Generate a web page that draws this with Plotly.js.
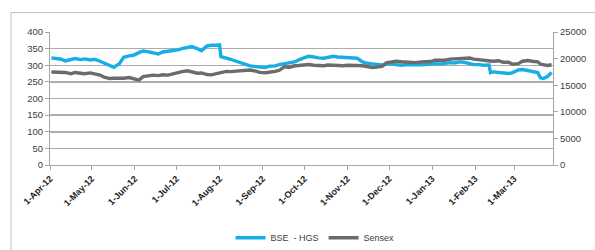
<!DOCTYPE html>
<html>
<head>
<meta charset="utf-8">
<script src="https://cdn.plot.ly/plotly-3.0.1.min.js"></script>
<style>
html,body{margin:0;padding:0;background:#fff;}
#chart{width:595px;height:250px;}
</style>
</head>
<body>
<div id="chart"></div>
<script>
const dates = [
"2012-04-02","2012-04-05","2012-04-09","2012-04-12","2012-04-16","2012-04-19","2012-04-23","2012-04-26","2012-04-30",
"2012-05-03","2012-05-07","2012-05-10","2012-05-14","2012-05-17","2012-05-21","2012-05-24","2012-05-28","2012-05-31",
"2012-06-04","2012-06-07","2012-06-11","2012-06-14","2012-06-18","2012-06-21","2012-06-25","2012-06-28",
"2012-07-02","2012-07-05","2012-07-09","2012-07-12","2012-07-16","2012-07-19","2012-07-23","2012-07-26","2012-07-30",
"2012-08-01","2012-08-02","2012-08-06","2012-08-09","2012-08-13","2012-08-16","2012-08-20","2012-08-23","2012-08-27","2012-08-30",
"2012-09-03","2012-09-06","2012-09-10","2012-09-13","2012-09-17","2012-09-20","2012-09-24","2012-09-27",
"2012-10-01","2012-10-04","2012-10-08","2012-10-11","2012-10-15","2012-10-18","2012-10-22","2012-10-25","2012-10-29",
"2012-11-01","2012-11-05","2012-11-08","2012-11-12","2012-11-15","2012-11-19","2012-11-22","2012-11-26","2012-11-29",
"2012-12-03","2012-12-06","2012-12-10","2012-12-13","2012-12-17","2012-12-20","2012-12-24","2012-12-27","2012-12-31",
"2013-01-03","2013-01-07","2013-01-10","2013-01-14","2013-01-17","2013-01-21","2013-01-24","2013-01-28","2013-01-31",
"2013-02-04","2013-02-07","2013-02-11","2013-02-12","2013-02-14","2013-02-18","2013-02-21","2013-02-25","2013-02-28",
"2013-03-04","2013-03-07","2013-03-11","2013-03-14","2013-03-18","2013-03-20","2013-03-22","2013-03-25","2013-03-28"
];
const bseHGS = [
322,321,318,313,318,320,317,319,316,
318,312,306,300,294,305,324,328,330,
338,343,340,338,334,340,342,344,
346,350,352,356,350,344,358,360,360,
361,326,322,318,312,308,302,298,296,295,
293,297,298,302,305,307,310,316,
322,327,325,322,321,323,327,325,324,
322,322,321,310,306,304,303,301,303,
304,302,300,302,301,300,301,302,304,
305,304,306,308,307,310,309,305,302,
302,300,301,278,280,278,276,275,278,
286,287,284,283,278,262,260,266,278
];
const sensex = [
17480,17450,17300,17400,17150,17390,17250,17150,17320,
17150,16900,16500,16250,16300,16250,16300,16450,16200,
15950,16600,16700,16900,16800,16950,16900,17100,
17400,17550,17700,17450,17250,17300,17000,16950,17250,
17300,17350,17600,17550,17650,17700,17800,17850,17650,17400,
17350,17400,17600,17800,18500,18350,18650,18700,
18850,18900,18750,18700,18650,18800,18700,18650,18650,
18750,18800,18700,18650,18500,18300,18400,18550,19200,
19300,19500,19400,19350,19300,19250,19350,19400,19450,
19700,19650,19700,19900,19950,20050,19950,20100,19900,
19750,19600,19500,19550,19500,19600,19300,19300,18950,
19050,19500,19650,19500,19400,18950,18800,18700,18850
];
const seriesNames = ["BSE  - HGS", "Sensex"];
const leftTicks = [0,50,100,150,200,250,300,350,400];
const rightTicks = [0,5000,10000,15000,20000,25000];

const font = "'Liberation Sans', Arial, sans-serif";
const txt = "#404040";
const gridC = "#ADADAD";
const axC = "#A6A6A6";

const traces = [
  {x: dates, y: bseHGS, name: seriesNames[0], type: "scatter", mode: "lines",
   line: {color: "#17AEE6", width: 3.4}, yaxis: "y"},
  {x: dates, y: sensex, name: seriesNames[1], type: "scatter", mode: "lines",
   line: {color: "#6B6B6B", width: 3.4}, yaxis: "y2"}
];

const layout = {
  width: 595, height: 250,
  margin: {l: 50, r: 42, t: 31.5, b: 85, autoexpand: false},
  paper_bgcolor: "#fff", plot_bgcolor: "#fff",
  showlegend: true,
  legend: {orientation: "h", x: 0.527, xanchor: "center", y: -0.547, yanchor: "middle",
    font: {family: font, size: 9, color: txt}, itemwidth: 30, tracegroupgap: 0},
  xaxis: {
    type: "date", range: ["2012-04-01", "2013-03-29"], automargin: false,
    tickmode: "linear", tick0: "2012-04-01", dtick: "M1",
    tickformat: "%-d-%b-%y", tickangle: -45,
    tickfont: {family: font, size: 9, color: "#222", weight: "bold"},
    showgrid: false, showline: true, linecolor: axC, linewidth: 1,
    ticks: "outside", ticklen: 4, tickcolor: axC, zeroline: false, fixedrange: true
  },
  yaxis: {
    range: [0, 400], tickvals: leftTicks, ticktext: leftTicks.map(String), automargin: false,
    tickfont: {family: font, size: 9.5, color: txt},
    showgrid: true, gridcolor: gridC, gridwidth: 1.5,
    showline: true, linecolor: axC, linewidth: 1,
    ticks: "outside", ticklen: 4, tickcolor: axC, zeroline: false
  },
  yaxis2: {
    range: [0, 25000], tickvals: rightTicks, ticktext: rightTicks.map(String), automargin: false,
    overlaying: "y", side: "right",
    tickfont: {family: font, size: 9.5, color: txt},
    showgrid: false, showline: true, linecolor: axC, linewidth: 1,
    ticks: "outside", ticklen: 4, tickcolor: axC, zeroline: false
  },
  shapes: [{
    type: "rect", xref: "paper", yref: "paper",
    x0: -0.0775, x1: 1.1, y0: -0.75, y1: 1.146,
    line: {color: "#BFBFBF", width: 1}, fillcolor: "rgba(0,0,0,0)", layer: "below"
  }]
};

Plotly.newPlot("chart", traces, layout, {displayModeBar: false, staticPlot: true});
</script>
</body>
</html>
